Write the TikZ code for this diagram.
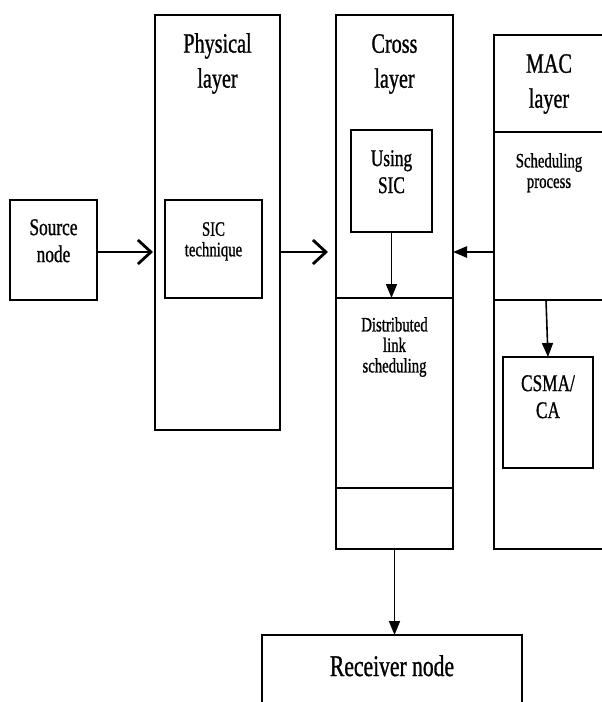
\documentclass[tikz,border=0pt]{standalone}
\usepackage{fontspec}
\setmainfont{Liberation Serif}[FakeStretch=0.72,FakeBold=0.9]
\usetikzlibrary{positioning,arrows.meta}

\newcommand\bigtxt{\fontsize{28}{35}\selectfont}
\newcommand\midtxt{\fontsize{24}{27}\selectfont}
\newcommand\smltxt{\fontsize{20.5}{20.5}\selectfont}

\begin{document}
\begin{tikzpicture}[
		x=1pt, y=-1pt,
		box/.style={draw,line width=1.6pt,inner sep=0pt,outer sep=0pt,anchor=north west},
		title/.style={align=center,inner sep=0pt,anchor=north,font=\bigtxt},
		label/.style={align=center,inner sep=0pt,anchor=north,font=\midtxt},
		small/.style={align=center,inner sep=0pt,anchor=north,font=\smltxt},
		flow/.style={line width=2.8pt,-{Straight Barb[length=13pt,width=24pt]}},
		arr/.style={line width=1.6pt,-{Triangle[length=14pt,width=11pt]}}
		]
		\useasboundingbox (0,0) rectangle (602,702);
		\clip (0,0) rectangle (602,702);
		\coordinate (mid) at (0,252);

		% boxes
		\node[box,minimum width=87pt,minimum height=100pt] (src) at (10,200) {};
		\node[box,minimum width=125pt,minimum height=415pt] (phys) at (155,15) {};
		\node[box,minimum width=97pt,minimum height=98pt] (sic) at (165,200) {};
		\node[box,minimum width=117pt,minimum height=283pt] (crosstop) at (336,15) {};
		\node[box,minimum width=117pt,minimum height=190pt] (crossmid) at (336,298) {};
		\node[box,minimum width=117pt,minimum height=61pt] (crossbot) at (336,488) {};
		\node[box,minimum width=81pt,minimum height=102pt] (using) at (351,130) {};
		\node[box,minimum width=110pt,minimum height=97pt] (mactop) at (494,35) {};
		\node[box,minimum width=110pt,minimum height=168pt] (macmid) at (494,132) {};
		\node[box,minimum width=110pt,minimum height=249pt] (macbot) at (494,300) {};
		\node[box,minimum width=90pt,minimum height=111pt] (csma) at (503,357) {};
		\node[box,minimum width=260pt,minimum height=90pt] (recv) at (262,635) {};

		% texts
		\node[label,below=19pt of src.north] (srclbl) {Source\\node};
		\node[title,below=18pt of phys.north] (physlbl) {Physical\\layer};
		\node[small,below=22pt of sic.north] (siclbl) {SIC\\technique};
		\node[title,below=19pt of crosstop.north] (crosslbl) {Cross\\layer};
		\node[label,below=20pt of using.north] (usinglbl) {Using\\SIC};
		\node[small,below=19pt of crossmid.north] (distlbl) {Distributed\\link\\scheduling};
		\node[title,below=19pt of mactop.north] (maclbl) {MAC\\layer};
		\node[small,below=21pt of macmid.north] (schedlbl) {Scheduling\\process};
		\node[label,below=18pt of csma.north] (csmalbl) {CSMA/\\CA};
		\node[title,font=\fontsize{30}{35}\selectfont,below=20pt of recv.north] (recvlbl) {Receiver node};

		% arrows
		\draw[flow,shorten >=2pt] (mid -| src.east) -- (mid -| phys.west);
		\draw[flow,shorten >=8pt] (mid -| phys.east) -- (mid -| crosstop.west);
		\draw[arr,line width=2.4pt] (mid -| macmid.west) -- (mid -| crosstop.east);
		\draw[arr] (using.south) -- (using.south |- crossmid.north);
		\draw[arr] ([xshift=-2pt]csma.north |- macbot.north) -- (csma.north);
		\draw[arr] (crossbot.south) -- (crossbot.south |- recv.north);
	\end{tikzpicture}
\end{document}
